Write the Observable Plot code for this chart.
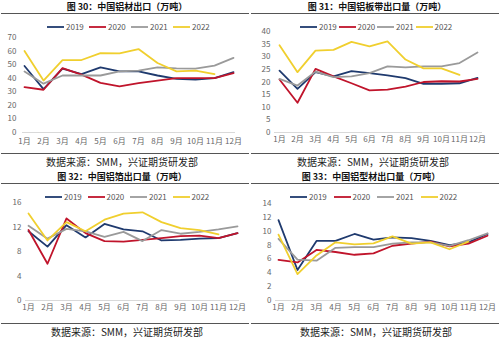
<!DOCTYPE html>
<html><head><meta charset="utf-8">
<script src="https://cdn.jsdelivr.net/npm/d3@7"></script>
<script src="https://cdn.jsdelivr.net/npm/@observablehq/plot@0.6"></script>
<style>
body{margin:0;background:#fff;width:500px;height:338px;overflow:hidden;font-family:"Noto Sans CJK SC","Noto Sans",sans-serif;position:relative;}
.panel{position:absolute;width:250px;height:168px;}
.title{position:absolute;top:0;width:250px;text-align:center;font-size:9px;font-weight:bold;line-height:14px;color:#111;white-space:nowrap}
.rule{position:absolute;left:1px;width:248px;height:0;border-top:1px solid #555}
.caption{position:absolute;width:250px;text-align:center;font-size:10px;line-height:11px;color:#222;white-space:nowrap}
.legend{position:absolute;top:22px;height:10px;display:flex;font-size:8px;color:#555;line-height:10px}
.legend .item{display:flex;align-items:center}
.legend .item svg{margin-right:2px}
.chart{position:absolute;left:0;top:20px}
</style>
</head><body>
<script>
const months = ["1月","2月","3月","4月","5月","6月","7月","8月","9月","10月","11月","12月"];
const years = ["2019","2020","2021","2022"];
const colors = ["#1f3a6e","#c0142b","#9a9a9a","#f0cf2e"];

// 图30 中国铝材出口
const p30_2019 = [49,32,47,43,48,45,45,42,39.5,39,40,44.5];
const p30_2020 = [33.4,31.5,47.5,42.7,36.6,34,36.3,38.3,40,40,40,43.7];
const p30_2021 = [45,36,42,42,42,45,45.6,48,47.3,47,49.3,55];
const p30_2022 = [60,38.3,53.4,53.4,58.5,58.3,61.5,51.2,45,45.6,43];
const p30_ticks = [0,10,20,30,40,50,60,70];

// 图31 中国铝板带出口量
const p31_2019 = [24.5,17.3,23.9,22.2,24.3,23.5,22.6,21.5,19.3,19.3,19.5,21.6];
const p31_2020 = [21,11.8,25.2,22.2,19.5,16.7,17,18.2,20,20.3,20.2,21.2];
const p31_2021 = [21.2,18.6,24.1,21.9,22.2,23.5,26.2,25.8,26.2,26.2,27.5,31.7];
const p31_2022 = [34.6,23.9,32.4,32.7,35.9,34.1,36.1,28.9,25.4,25.4,22.8];
const p31_ticks = [0,5,10,15,20,25,30,35,40];

// 图32 中国铝箔出口量
const p32_2019 = [11.3,8.8,12.3,10.3,12.5,11.6,11.3,9.8,9.9,10.1,10.2,11];
const p32_2020 = [11.5,6,13.4,11,9.7,9.6,9.9,10.2,10.5,10.6,10.2,11];
const p32_2021 = [12.2,10.1,11.7,11.3,10.4,11.2,9.7,11.5,10.9,11.2,11.6,12.1];
const p32_2022 = [14.2,9.8,12.8,11.3,13.2,14.2,14.4,12.8,11.8,11.5,10.8];
const p32_ticks = [0,4,8,12,16];

// 图33 中国铝型材出口量
const p33_2019 = [11.6,4.4,8.6,8.6,9.6,8.8,9.1,9,8.6,8,8.4,9.6];
const p33_2020 = [5.85,5.5,7.3,7,6.6,6.8,7.9,8.2,8.5,7.8,8.2,9.35];
const p33_2021 = [8.9,5.9,5.75,7.6,7.7,7.7,8.2,8.4,8.4,7.9,8.7,9.7];
const p33_2022 = [9.5,3.8,6.5,8.4,8.1,8.25,9.25,8.2,8.4,7.4,8.5];
const p33_ticks = [0,2,4,6,8,10,12,14];

const titles = ["图 30：中国铝材出口（万吨）","图 31：中国铝板带出口量（万吨）","图 32：中国铝箔出口量（万吨）","图 33：中国铝型材出口量（万吨）"];
const caption = "数据来源：SMM，兴证期货研发部";

const panels = [
  {series:[p30_2019,p30_2020,p30_2021,p30_2022], ticks:p30_ticks, left:0, top:0, mt:17, mb:18, ml:22, mr:15, pad:6, titleShift:2, legLeft:47, legW:42, ruleTop:13, ruleBot:153, capTop:156, capShift:-3},
  {series:[p31_2019,p31_2020,p31_2021,p31_2022], ticks:p31_ticks, left:250, top:0, mt:11, mb:18, ml:24, mr:18, pad:4, titleShift:2, legLeft:50, legW:38.5, ruleTop:13, ruleBot:153, capTop:156, capShift:-2},
  {series:[p32_2019,p32_2020,p32_2021,p32_2022], ticks:p32_ticks, left:0, top:170, mt:12, mb:20, ml:25, mr:11, pad:4, titleShift:-3, legLeft:45, legW:42.5, ruleTop:13, ruleBot:153, capTop:156, capShift:2},
  {series:[p33_2019,p33_2020,p33_2021,p33_2022], ticks:p33_ticks, left:250, top:170, mt:13, mb:20, ml:25, mr:10, pad:4, titleShift:-4, legLeft:40, legW:43.5, ruleTop:13, ruleBot:153, capTop:156, capShift:1}
];

panels.forEach((p, i) => {
  const div = document.createElement("div");
  div.className = "panel";
  div.style.left = p.left + "px";
  div.style.top = p.top + "px";
  document.body.appendChild(div);

  const rows = [];
  p.series.forEach((vals, k) => vals.forEach((v, j) => rows.push({month: months[j], year: years[k], value: v})));

  const chart = Plot.plot({
    width: 250, height: 130,
    marginTop: p.mt, marginBottom: p.mb, marginLeft: p.ml, marginRight: p.mr,
    style: {background: "transparent", overflow: "visible", fontSize: "8px", fontFamily: '"Noto Sans CJK SC", "Noto Sans", sans-serif', color: "#666"},
    x: {type: "point", domain: months, padding: 0, label: null, tickSize: 0, tickPadding: p.pad},
    y: {domain: [p.ticks[0], p.ticks[p.ticks.length-1]], ticks: p.ticks, label: null, tickSize: 0, tickPadding: p.pad},
    color: {domain: years, range: colors},
    marks: [
      Plot.ruleY([0], {stroke: "#d9d9d9", strokeWidth: 1}),
      Plot.line(rows, {x: "month", y: "value", z: "year", stroke: "year", strokeWidth: 1.8, curve: "linear"})
    ]
  });
  chart.classList.add("chart");
  div.appendChild(chart);

  const t = document.createElement("div");
  t.className = "title"; t.textContent = titles[i];
  t.style.left = p.titleShift + "px";
  div.appendChild(t);

  const r1 = document.createElement("div"); r1.className = "rule"; r1.style.top = p.ruleTop + "px"; div.appendChild(r1);
  const r2 = document.createElement("div"); r2.className = "rule"; r2.style.top = p.ruleBot + "px"; div.appendChild(r2);

  const c = document.createElement("div");
  c.className = "caption"; c.textContent = caption;
  c.style.top = p.capTop + "px"; c.style.left = p.capShift + "px";
  div.appendChild(c);

  const leg = document.createElement("div");
  leg.className = "legend"; leg.style.left = p.legLeft + "px";
  years.forEach((y, k) => {
    const it = document.createElement("div");
    it.className = "item"; it.style.width = p.legW + "px";
    it.innerHTML = `<svg width="17" height="4"><line x1="0" x2="17" y1="2" y2="2" stroke="${colors[k]}" stroke-width="1.8"/></svg><span>${y}</span>`;
    leg.appendChild(it);
  });
  div.appendChild(leg);
});
</script>
</body></html>
